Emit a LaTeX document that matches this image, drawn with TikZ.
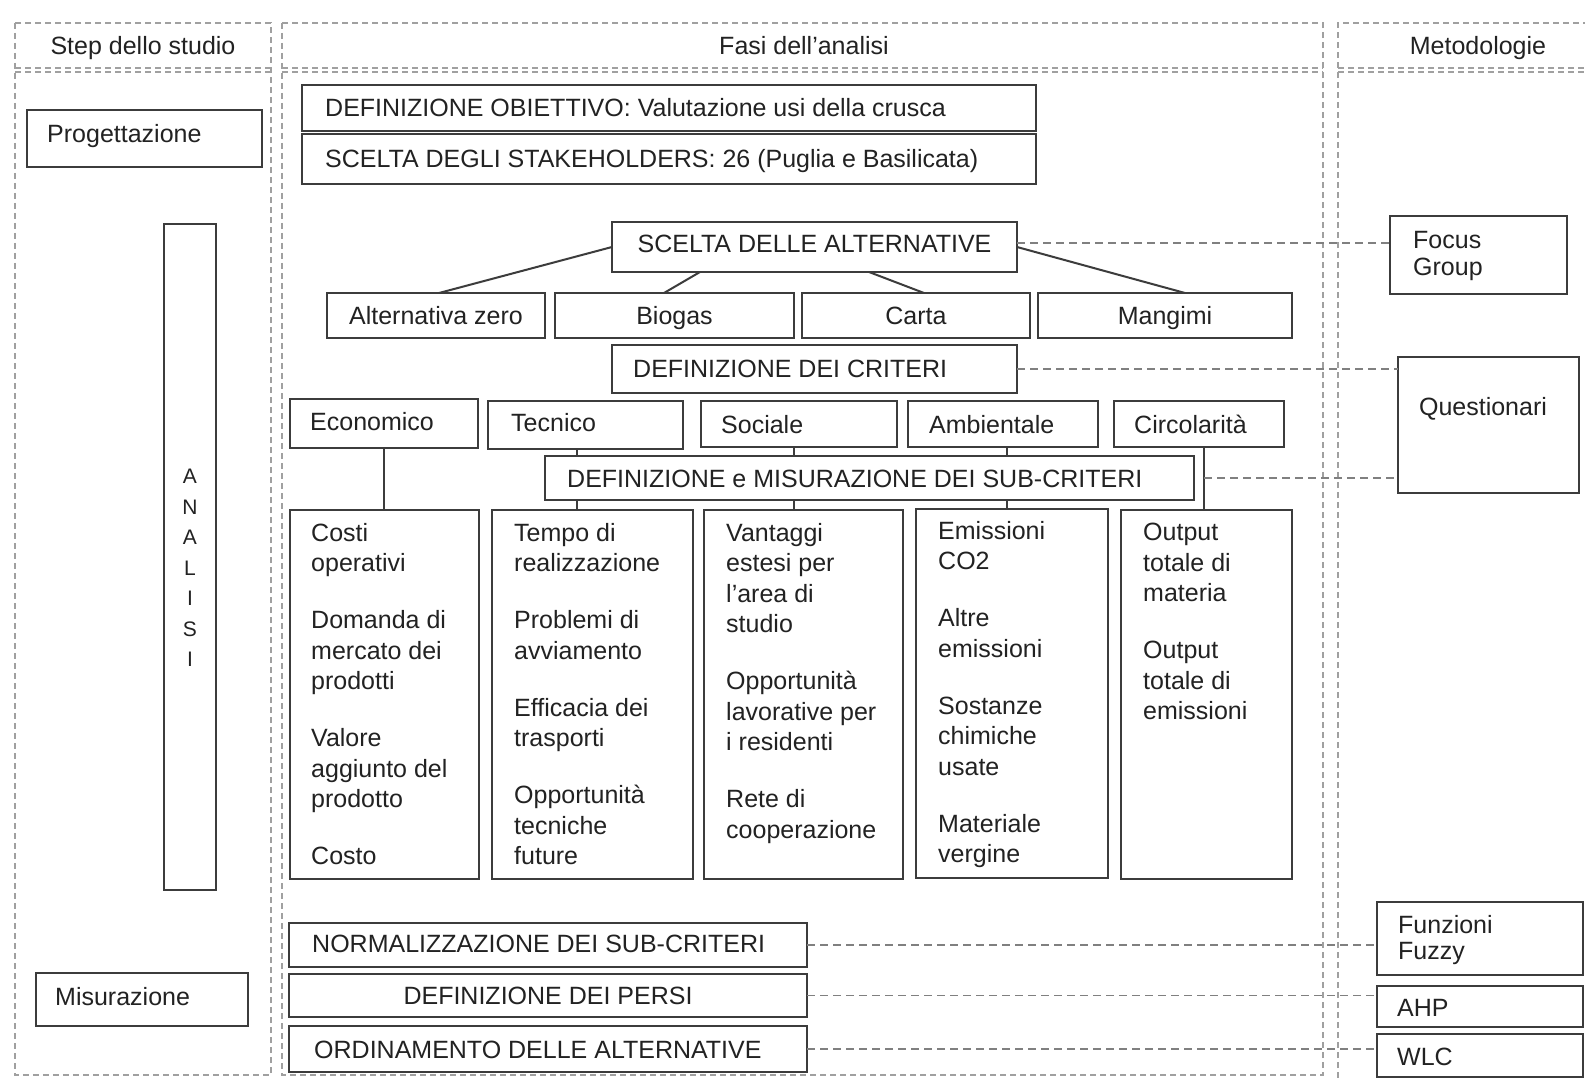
\documentclass[tikz,border=0pt]{standalone}
\usepackage{fontspec}
\setmainfont{Liberation Sans}
\usetikzlibrary{calc}
\definecolor{bord}{HTML}{3C3C3C}
\definecolor{txt}{HTML}{222222}
\definecolor{dashc}{HTML}{808080}
\definecolor{panc}{HTML}{A0A0A0}
\newcommand\myfz{\fontsize{25}{30.5}\selectfont}
\newcommand\mkbox[6][]{\node[bx,minimum width={#5pt-#3pt},minimum height={#6pt-#4pt},#1] (#2) at ({(#3+#5)/2},{(#4+#6)/2}) {};}
\begin{document}
\begin{tikzpicture}[x=1pt,y=-1pt,
 bx/.style={draw=bord,line width=2pt,inner sep=0pt,outer sep=0pt,rectangle,fill=white},
 lt/.style={anchor=west,inner sep=0pt,text=txt,font=\myfz,text height=18pt,text depth=0pt},
 ct/.style={anchor=center,inner sep=0pt,text=txt,font=\myfz,text height=18pt,text depth=0pt},
 mt/.style={anchor=north west,inner sep=0pt,text=txt,font=\myfz,align=left},
 conn/.style={draw=bord,line width=2pt},
 dconn/.style={draw=dashc,line width=1.6pt,dash pattern=on 8pt off 5pt},
 pnl/.style={draw=panc,line width=1.3pt,dash pattern=on 6pt off 4pt}]
\useasboundingbox[fill=white] (0,0) rectangle (1585,1078);

% panels
\draw[pnl] (15,23) rectangle (271,1075);
\draw[pnl] (282,23) rectangle (1323,1075);
\draw[pnl] (1338,1078) -- (1338,23) -- (1585,23);
\draw[pnl] (15,68) -- (271,68) (15,72) -- (271,72);
\draw[pnl] (282,68) -- (1323,68) (282,72) -- (1323,72);
\draw[pnl] (1338,68) -- (1585,68) (1338,72) -- (1585,72);

\node[ct] (h1) at (143,46) {Step dello studio};
\node[ct] (h2) at (804,46) {Fasi dell'analisi};
\node[ct] (h3) at (1478,46) {Metodologie};

% boxes
\mkbox{prog}{27}{110}{262}{167}
\mkbox{anal}{164}{224}{216}{890}
\mkbox{misu}{36}{973}{248}{1026}

\mkbox{obj}{302}{85}{1036}{131}
\mkbox{stake}{302}{134}{1036}{184}
\mkbox{alt}{612}{222}{1017}{272}
\mkbox{azero}{327}{293}{545}{338}
\mkbox{biogas}{555}{293}{794}{338}
\mkbox{carta}{802}{293}{1030}{338}
\mkbox{mangimi}{1038}{293}{1292}{338}
\mkbox{crit}{612}{345}{1017}{393}
\mkbox{eco}{290}{399}{478}{448}
\mkbox{tec}{488}{401}{683}{449}
\mkbox{soc}{701}{401}{897}{447}
\mkbox{amb}{908}{401}{1098}{447}
\mkbox{cir}{1114}{401}{1284}{447}
\mkbox{sub}{545}{456}{1194}{500}
\mkbox{da}{290}{510}{479}{879}
\mkbox{db}{492}{510}{693}{879}
\mkbox{dc}{704}{510}{903}{879}
\mkbox{dd}{916}{509}{1108}{878}
\mkbox{de}{1121}{510}{1292}{879}
\mkbox{norm}{289}{923}{807}{967}
\mkbox{pesi}{289}{974}{807}{1017}
\mkbox{ord}{289}{1026}{807}{1072}

\mkbox{focus}{1390}{216}{1567}{294}
\mkbox{quest}{1398}{357}{1579}{493}
\mkbox{fuzzy}{1377}{902}{1583}{975}
\mkbox{ahp}{1377}{986}{1583}{1027}
\mkbox{wlc}{1377}{1034}{1583}{1077}

% helper coordinates
\coordinate (xt) at (577,0);
\coordinate (xs) at (794,0);
\coordinate (xa) at (1007,0);
\coordinate (xc) at (1204,0);
\coordinate (yf) at (0,243);

% solid connectors
\draw[conn] (alt.west) -- ($(azero.north west)+(112,0)$);
\draw[conn] ($(alt.south west)+(88,0)$) -- ($(biogas.north west)+(109,0)$);
\draw[conn] ($(alt.south west)+(257,0)$) -- ($(carta.north west)+(122,0)$);
\draw[conn] (alt.east) -- ($(mangimi.north west)+(147,0)$);
\draw[conn] (eco.south) -- (eco.south |- da.north);
\draw[conn] (tec.south -| xt) -- (sub.north -| xt);
\draw[conn] (sub.south -| xt) -- (db.north -| xt);
\draw[conn] (soc.south -| xs) -- (sub.north -| xs);
\draw[conn] (sub.south -| xs) -- (dc.north -| xs);
\draw[conn] (amb.south -| xa) -- (sub.north -| xa);
\draw[conn] (sub.south -| xa) -- (dd.north -| xa);
\draw[conn] (cir.south -| xc) -- (de.north -| xc);

% dashed connectors
\draw[dconn] (alt.east |- yf) -- (focus.west |- yf);
\draw[dconn] (crit.east) -- (quest.west |- crit.east);
\draw[dconn] (xc |- sub.east) -- (quest.west |- sub.east);
\draw[dconn] (norm.east) -- (fuzzy.west |- norm.east);
\draw[dconn] (pesi.east) -- (ahp.west |- pesi.east);
\draw[dconn] (ord.east) -- (wlc.west |- ord.east);

% texts
\node[lt] (tprog) at (47,134) {Progettazione};
\node[lt] (tmisu) at (55,996) {Misurazione};
\node[anchor=north,inner sep=0pt,text=txt,font=\fontsize{21}{30.5}\selectfont,align=center] (tanal) at (190,469) {A\\N\\A\\L\\I\\S\\I};

\node[lt] (tobj) at (325,108) {DEFINIZIONE OBIETTIVO: Valutazione usi della crusca};
\node[lt] (tstake) at (325,159) {SCELTA DEGLI STAKEHOLDERS: 26 (Puglia e Basilicata)};
\node[ct] (talt) at ($(alt)+(0,-3)$) {SCELTA DELLE ALTERNATIVE};
\node[ct] (tazero) at (azero) {Alternativa zero};
\node[ct] (tbiogas) at (biogas) {Biogas};
\node[ct] (tcarta) at (carta) {Carta};
\node[ct] (tmangimi) at (mangimi) {Mangimi};
\node[lt] (tcrit) at (633,368) {DEFINIZIONE DEI CRITERI};
\node[lt] (teco) at (310,421) {Economico};
\node[lt] (ttec) at (511,422) {Tecnico};
\node[lt] (tsoc) at (721,424) {Sociale};
\node[lt] (tamb) at (929,424) {Ambientale};
\node[lt] (tcir) at (1134,424) {Circolarità};
\node[lt] (tsub) at (567,478) {DEFINIZIONE e MISURAZIONE DEI SUB-CRITERI};

\node[mt] (tda) at (311,523) {Costi\\operativi\\[26.5pt]Domanda di\\mercato dei\\prodotti\\[26.5pt]Valore\\aggiunto del\\prodotto\\[26.5pt]Costo};
\node[mt] (tdb) at (514,523) {Tempo di\\realizzazione\\[26.5pt]Problemi di\\avviamento\\[26.5pt]Efficacia dei\\trasporti\\[26.5pt]Opportunità\\tecniche\\future};
\node[mt] (tdc) at (726,523) {Vantaggi\\estesi per\\l'area di\\studio\\[26.5pt]Opportunità\\lavorative per\\i residenti\\[26.5pt]Rete di\\cooperazione};
\node[mt] (tdd) at (938,521) {Emissioni\\CO2\\[26.5pt]Altre\\emissioni\\[26.5pt]Sostanze\\chimiche\\usate\\[26.5pt]Materiale\\vergine};
\node[mt] (tde) at (1143,523) {Output\\totale di\\materia\\[26.5pt]Output\\totale di\\emissioni};

\node[lt] (tnorm) at (312,943) {NORMALIZZAZIONE DEI SUB-CRITERI};
\node[ct] (tpesi) at (pesi) {DEFINIZIONE DEI PERSI};
\node[lt] (tord) at (314,1049) {ORDINAMENTO DELLE ALTERNATIVE};

\node[anchor=north west,inner sep=0pt,text=txt,font=\fontsize{25}{27}\selectfont,align=left] (tfocus) at (1413,231) {Focus\\Group};
\node[ct] (tquest) at (1483,406) {Questionari};
\node[anchor=north west,inner sep=0pt,text=txt,font=\fontsize{25}{26.5}\selectfont,align=left] (tfuzzy) at (1398,915) {Funzioni\\Fuzzy};
\node[lt] (tahp) at (1397,1007) {AHP};
\node[lt] (twlc) at (1397,1056) {WLC};
\end{tikzpicture}
\end{document}
